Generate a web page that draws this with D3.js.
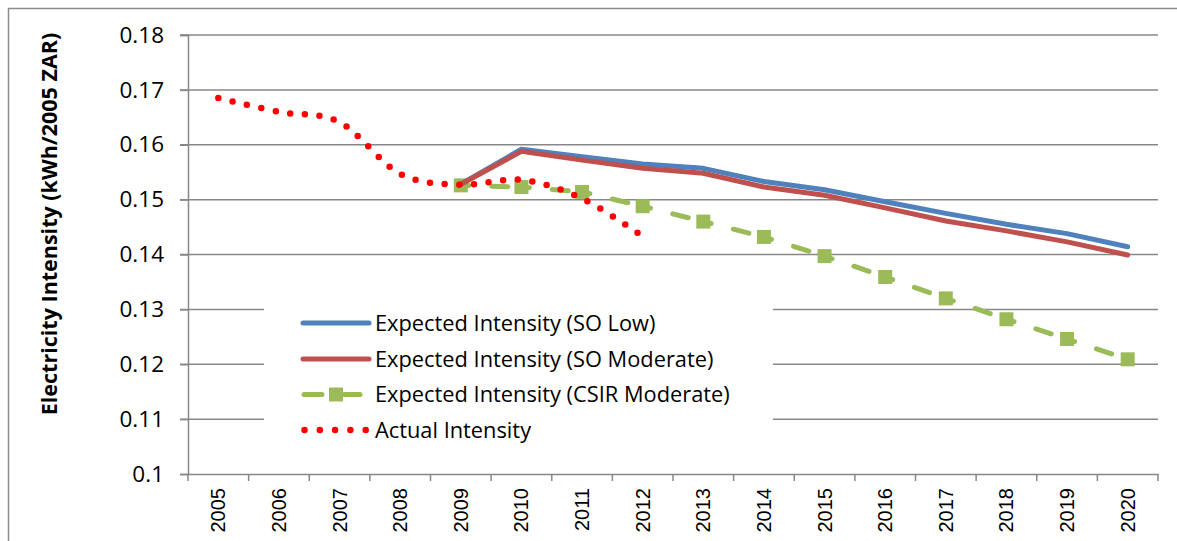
<!DOCTYPE html>
<html>
<head>
<meta charset="utf-8">
<script src="https://cdn.jsdelivr.net/npm/d3@7"></script>
<style>
  body { margin: 0; background: #fff; }
  text { font-family: "Open Sans", sans-serif; fill: #000; }
  .xlab { font-family: "Liberation Sans", Arial, sans-serif; }
</style>
</head>
<body>
<div id="chart"></div>
<script>
// categories + series
var years = ["2005","2006","2007","2008","2009","2010","2011","2012","2013","2014","2015","2016","2017","2018","2019","2020"];
var soLow = [null,null,null,null,0.1528,0.1592,0.1578,0.1565,0.1557,0.1533,0.1518,0.1496,0.1475,0.1455,0.1438,0.1414];
var soModerate = [null,null,null,null,0.1528,0.1588,0.1572,0.1557,0.1548,0.1523,0.1508,0.1485,0.1461,0.1443,0.1423,0.1399];
var csirModerate = [null,null,null,null,0.1526,0.1523,0.1514,0.1488,0.1460,0.1432,0.1397,0.1359,0.1320,0.1282,0.1246,0.1209];
var actual = [0.1685,0.1660,0.1641,0.1547,0.1527,0.1536,0.1502,0.1433,null,null,null,null,null,null,null,null];
var yTicks = [0.1,0.11,0.12,0.13,0.14,0.15,0.16,0.17,0.18];
var legendNames = ["Expected Intensity (SO Low)","Expected Intensity (SO Moderate)","Expected Intensity (CSIR Moderate)","Actual Intensity"];

var width = 1177, height = 541;
var svg = d3.select("#chart").append("svg")
  .attr("width", width)
  .attr("height", height);

// Rahmen
svg.append("rect")
  .attr("x", 8.5).attr("y", 8.5)
  .attr("width", 1300).attr("height", 700)
  .attr("fill", "#fff")
  .attr("stroke", "#8c8c8c")
  .attr("stroke-width", 1.5);

var x = d3.scaleBand().domain(years).range([188, 1158]).padding(0);
var y = d3.scaleLinear().domain([0.1, 0.18]).range([474, 35]);
var cx = function(i){ return x(years[i]) + x.bandwidth()/2; };

// gridlines
svg.append("g").selectAll("line")
  .data(yTicks.filter(function(d){ return d > 0.1; }))
  .enter().append("line")
  .attr("x1", 180).attr("x2", 1158)
  .attr("y1", function(d){ return y(d); })
  .attr("y2", function(d){ return y(d); })
  .attr("stroke", "#878787")
  .attr("stroke-width", 1.5);

// y axis
var yAxis = svg.append("g")
  .attr("transform", "translate(188,0)")
  .call(d3.axisLeft(y).tickValues(yTicks).tickSize(8).tickPadding(16)
    .tickFormat(function(d){ return String(+d.toFixed(2)); }));
yAxis.select(".domain").attr("stroke", "#878787").attr("stroke-width", 1.5);
yAxis.selectAll(".tick line").attr("stroke", "#878787").attr("stroke-width", 1.5);
yAxis.selectAll("text").style("font-size", "22.5px").attr("fill", "#000").style("font-family", "Open Sans");

// x axis
var xAxis = svg.append("g")
  .attr("transform", "translate(0,474)")
  .call(d3.axisBottom(x).tickSize(0).tickSizeOuter(0));
xAxis.select(".domain").attr("stroke", "#878787").attr("stroke-width", 1.5);
xAxis.selectAll(".tick text")
  .attr("class", "xlab")
  .style("font-size", "20px")
  .style("font-family", "Liberation Sans")
  .attr("fill", "#000")
  .attr("transform", "rotate(-90)")
  .attr("text-anchor", "end")
  .attr("x", -14)
  .attr("y", 0)
  .attr("dy", "0.35em");
// band edge ticks
svg.append("g").selectAll("line")
  .data(years.concat(["end"]))
  .enter().append("line")
  .attr("x1", function(d, i){ return 188 + i * x.bandwidth(); })
  .attr("x2", function(d, i){ return 188 + i * x.bandwidth(); })
  .attr("y1", 474).attr("y2", 481)
  .attr("stroke", "#878787").attr("stroke-width", 1.5);

// y title
svg.append("text")
  .attr("transform", "translate(57,224) rotate(-90)")
  .attr("text-anchor", "middle")
  .style("font-size", "21.5px")
  .style("font-weight", "bold")
  .text("Electricity Intensity (kWh/2005 ZAR)");

function pts(arr){
  return arr.map(function(v, i){ return v == null ? null : [cx(i), y(v)]; })
            .filter(function(p){ return p; });
}

// CSIR Moderate: dashed segments + squares
var csirPts = pts(csirModerate);
var gG = svg.append("g");
for (var k = 0; k < csirPts.length - 1; k++) {
  gG.append("line")
    .attr("x1", csirPts[k][0]).attr("y1", csirPts[k][1])
    .attr("x2", csirPts[k+1][0]).attr("y2", csirPts[k+1][1])
    .attr("stroke", "#9BBB59").attr("stroke-width", 5)
    .attr("stroke-linecap", "round")
    .attr("stroke-dasharray", "16 23")
    .attr("stroke-dashoffset", 8);
}
gG.selectAll("rect").data(csirPts).enter().append("rect")
  .attr("x", function(p){ return p[0] - 7; })
  .attr("y", function(p){ return p[1] - 7; })
  .attr("width", 14).attr("height", 14)
  .attr("fill", "#9BBB59");

// SO Low / SO Moderate
var line = d3.line();
svg.append("path").attr("d", line(pts(soLow)))
  .attr("fill", "none").attr("stroke", "#4F81BD").attr("stroke-width", 5)
  .attr("stroke-linejoin", "round").attr("stroke-linecap", "round");
svg.append("path").attr("d", line(pts(soModerate)))
  .attr("fill", "none").attr("stroke", "#C0504D").attr("stroke-width", 5)
  .attr("stroke-linejoin", "round").attr("stroke-linecap", "round");

// Actual (smoothed, round dots)
svg.append("path").attr("d", d3.line().curve(d3.curveCatmullRom.alpha(0))(pts(actual)))
  .attr("fill", "none").attr("stroke", "#FF0000").attr("stroke-width", 6.5)
  .attr("stroke-linecap", "round")
  .attr("stroke-dasharray", "0 14.7");

// Legende
var lg = svg.append("g");
lg.append("rect")
  .attr("x", 264).attr("y", 286)
  .attr("width", 509).attr("height", 176)
  .attr("fill", "#fff");
var rowsY = [323, 359, 394.5, 430];
lg.selectAll("text").data(legendNames).enter().append("text")
  .attr("x", 375)
  .attr("y", function(d, i){ return rowsY[i]; })
  .attr("dy", "0.35em")
  .style("font-size", "21.8px")
  .text(function(d){ return d; });
lg.append("line").attr("x1", 303).attr("x2", 369).attr("y1", rowsY[0]).attr("y2", rowsY[0])
  .attr("stroke", "#4F81BD").attr("stroke-width", 5).attr("stroke-linecap", "round");
lg.append("line").attr("x1", 303).attr("x2", 369).attr("y1", rowsY[1]).attr("y2", rowsY[1])
  .attr("stroke", "#C0504D").attr("stroke-width", 5).attr("stroke-linecap", "round");
lg.append("line").attr("x1", 304).attr("x2", 322).attr("y1", rowsY[2]).attr("y2", rowsY[2])
  .attr("stroke", "#9BBB59").attr("stroke-width", 5).attr("stroke-linecap", "round");
lg.append("line").attr("x1", 344).attr("x2", 360).attr("y1", rowsY[2]).attr("y2", rowsY[2])
  .attr("stroke", "#9BBB59").attr("stroke-width", 5).attr("stroke-linecap", "round");
lg.append("rect").attr("x", 329).attr("y", rowsY[2] - 7).attr("width", 14).attr("height", 14)
  .attr("fill", "#9BBB59");
lg.append("line").attr("x1", 304.5).attr("x2", 366).attr("y1", rowsY[3]).attr("y2", rowsY[3])
  .attr("stroke", "#FF0000").attr("stroke-width", 6.5).attr("stroke-linecap", "round")
  .attr("stroke-dasharray", "0 15.3");
</script>
</body>
</html>
